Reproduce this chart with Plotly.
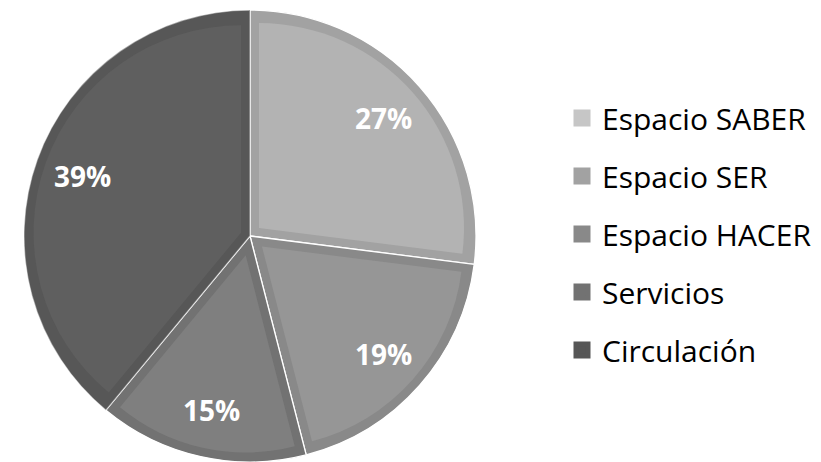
import math
import plotly.graph_objects as go

# ---- data ----
labels = ["Espacio SABER", "Espacio SER", "Espacio HACER", "Servicios", "Circulación"]
values = [0, 27, 19, 15, 39]
fill_colors = ["#d2d2d2", "#b3b3b3", "#969696", "#7f7f7f", "#5f5f5f"]
edge_colors = ["#c6c6c6", "#a2a2a2", "#898989", "#727272", "#575757"]
sep_colors = ["white", "white", "white", "white", "rgba(255,255,255,0.45)"]

# ---- geometry / style ----
W, H = 821, 462
CX, CY, R = 250, 236, 226
BORDER = 9
LABEL_FRAC = 0.79
FONT = "Open Sans"


def dom(half):
    return dict(x=[(CX - half) / W, (CX + half) / W],
                y=[max(0, (H - CY - half) / H), min(1, (H - CY + half) / H)])


idx = [i for i, v in enumerate(values) if v > 0]
lab = [labels[i] for i in idx]
vals = [values[i] for i in idx]
total = sum(vals)

fig = go.Figure()

# legend-only entries (hidden beneath the main pie)
for i, name in enumerate(labels):
    fig.add_trace(go.Pie(
        labels=[name], values=[1], sort=False,
        marker=dict(colors=[edge_colors[i]], line=dict(color=edge_colors[i], width=5)),
        textinfo="none", hoverinfo="skip", legendgroup=name, showlegend=True,
        domain=dom(40),
    ))

# base pie: edge colour + separators
fig.add_trace(go.Pie(
    labels=lab, values=vals, sort=False, direction="clockwise", rotation=0,
    marker=dict(colors=[edge_colors[i] for i in idx],
                line=dict(color=[sep_colors[i] for i in idx], width=1.3)),
    textinfo="none", hoverinfo="skip", showlegend=False, domain=dom(R),
))

# inner fills, inset from each slice edge
for k, i in enumerate(idx):
    alpha = math.pi * vals[k] / total
    p = BORDER / math.sin(alpha) if alpha < math.pi / 2 else BORDER
    r_in = R - BORDER - p
    pull = p / r_in
    fig.add_trace(go.Pie(
        labels=lab, values=vals, sort=False, direction="clockwise", rotation=0,
        marker=dict(colors=[fill_colors[i] if j == k else "rgba(0,0,0,0)" for j in range(len(idx))],
                    line=dict(width=0)),
        pull=[pull if j == k else 0 for j in range(len(idx))],
        textinfo="none", hoverinfo="skip", showlegend=False, domain=dom(R - BORDER),
    ))

# percentage labels along each slice bisector
cum = 0
annotations = []
for k, v in enumerate(vals):
    mid = 2 * math.pi * (cum + v / 2) / total
    cum += v
    px = CX + LABEL_FRAC * R * math.sin(mid)
    py = CY - LABEL_FRAC * R * math.cos(mid)
    annotations.append(dict(
        x=px / W, y=1 - py / H, xref="paper", yref="paper",
        text=f"{v}%", showarrow=False, xanchor="center", yanchor="middle",
        font=dict(family=FONT, size=28, color="white", weight="bold"),
    ))

fig.update_layout(
    width=W, height=H,
    margin=dict(l=0, r=0, t=0, b=0),
    paper_bgcolor="white", plot_bgcolor="white",
    annotations=annotations,
    legend=dict(
        x=562 / W, y=(H - 92) / H, xanchor="left", yanchor="top",
        font=dict(family=FONT, size=30, color="black"),
        traceorder="grouped", tracegroupgap=16,
        bgcolor="rgba(0,0,0,0)",
    ),
)

fig.write_html("out.html", config={"displayModeBar": False},
               post_script="document.body.style.margin='0px';")
